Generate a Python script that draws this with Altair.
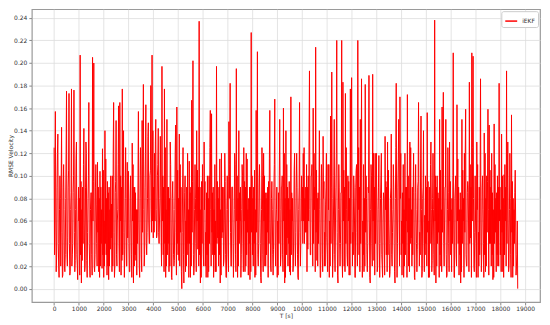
import altair as alt
import pandas as pd

STEP = 50 / 3  # time step between samples [s]

# main samples (every 50 s)
row00 = [0.125, 0.157, 0.028, 0.137, 0.010, 0.080, 0.143, 0.012, 0.070, 0.030, 0.175, 0.045, 0.173, 0.015, 0.177, 0.040, 0.176, 0.025, 0.130, 0.008]
row01 = [0.060, 0.207, 0.005, 0.090, 0.142, 0.020, 0.120, 0.050, 0.165, 0.010, 0.085, 0.205, 0.200, 0.030, 0.075, 0.112, 0.015, 0.104, 0.040, 0.124]
row02 = [0.010, 0.140, 0.030, 0.095, 0.008, 0.070, 0.045, 0.100, 0.165, 0.020, 0.149, 0.060, 0.162, 0.165, 0.012, 0.177, 0.140, 0.035, 0.080, 0.112]
row03 = [0.104, 0.015, 0.060, 0.129, 0.005, 0.090, 0.025, 0.070, 0.157, 0.010, 0.100, 0.149, 0.181, 0.030, 0.163, 0.050, 0.147, 0.040, 0.180, 0.207]
row04 = [0.045, 0.120, 0.150, 0.048, 0.142, 0.060, 0.090, 0.197, 0.030, 0.177, 0.010, 0.150, 0.040, 0.080, 0.110, 0.008, 0.070, 0.025, 0.145, 0.161]
row05 = [0.030, 0.137, 0.050, 0.000, 0.125, 0.060, 0.015, 0.090, 0.040, 0.113, 0.010, 0.167, 0.202, 0.020, 0.080, 0.140, 0.035, 0.237, 0.005, 0.095]
row06 = [0.060, 0.130, 0.020, 0.085, 0.010, 0.100, 0.158, 0.155, 0.030, 0.070, 0.015, 0.197, 0.045, 0.090, 0.005, 0.120, 0.050, 0.025, 0.095, 0.010]
row07 = [0.070, 0.148, 0.182, 0.020, 0.090, 0.040, 0.110, 0.195, 0.010, 0.140, 0.060, 0.030, 0.100, 0.125, 0.015, 0.120, 0.050, 0.080, 0.008, 0.227]
row08 = [0.030, 0.090, 0.010, 0.158, 0.210, 0.040, 0.075, 0.005, 0.100, 0.120, 0.020, 0.080, 0.050, 0.095, 0.158, 0.015, 0.070, 0.035, 0.168, 0.060]
row09 = [0.010, 0.085, 0.150, 0.030, 0.100, 0.160, 0.005, 0.140, 0.045, 0.080, 0.015, 0.170, 0.060, 0.020, 0.120, 0.050, 0.090, 0.008, 0.165, 0.040]
row10 = [0.060, 0.120, 0.040, 0.090, 0.015, 0.100, 0.193, 0.030, 0.110, 0.160, 0.070, 0.214, 0.025, 0.085, 0.140, 0.010, 0.095, 0.135, 0.020, 0.075]
row11 = [0.045, 0.110, 0.010, 0.153, 0.192, 0.030, 0.150, 0.060, 0.220, 0.005, 0.090, 0.040, 0.220, 0.183, 0.020, 0.173, 0.070, 0.100, 0.012, 0.177]
row12 = [0.187, 0.050, 0.090, 0.010, 0.110, 0.220, 0.030, 0.150, 0.186, 0.060, 0.015, 0.181, 0.080, 0.040, 0.189, 0.005, 0.100, 0.190, 0.025, 0.120]
row13 = [0.120, 0.020, 0.118, 0.040, 0.120, 0.010, 0.080, 0.135, 0.030, 0.130, 0.060, 0.015, 0.137, 0.050, 0.090, 0.005, 0.182, 0.040, 0.150, 0.170]
row14 = [0.030, 0.085, 0.010, 0.120, 0.060, 0.172, 0.020, 0.130, 0.045, 0.090, 0.120, 0.008, 0.070, 0.035, 0.165, 0.050, 0.153, 0.015, 0.140, 0.065]
row15 = [0.040, 0.156, 0.010, 0.090, 0.130, 0.025, 0.070, 0.238, 0.005, 0.100, 0.050, 0.150, 0.020, 0.161, 0.174, 0.060, 0.150, 0.012, 0.085, 0.130]
row16 = [0.030, 0.080, 0.209, 0.010, 0.100, 0.163, 0.040, 0.070, 0.005, 0.150, 0.060, 0.120, 0.159, 0.020, 0.090, 0.183, 0.045, 0.209, 0.206, 0.015]
row17 = [0.060, 0.130, 0.010, 0.090, 0.186, 0.030, 0.070, 0.138, 0.015, 0.100, 0.159, 0.145, 0.040, 0.120, 0.008, 0.146, 0.050, 0.085, 0.020, 0.182]
row18 = [0.030, 0.137, 0.015, 0.101, 0.060, 0.193, 0.130, 0.020, 0.080, 0.154, 0.010, 0.070, 0.105, 0.020, 0.000]

# second sample inside each 50 s block
mid00 = [0.030, 0.060, 0.090, 0.040, 0.070, 0.020, 0.050, 0.090, 0.020, 0.080, 0.030, 0.090, 0.040, 0.070, 0.020, 0.085, 0.050, 0.070, 0.030, 0.060]
mid01 = [0.080, 0.030, 0.070, 0.040, 0.060, 0.090, 0.025, 0.080, 0.040, 0.070, 0.030, 0.060, 0.020, 0.090, 0.040, 0.050, 0.080, 0.020, 0.070, 0.030]
mid02 = [0.060, 0.040, 0.080, 0.020, 0.090, 0.035, 0.075, 0.020, 0.050, 0.085, 0.030, 0.070, 0.040, 0.060, 0.090, 0.030, 0.050, 0.080, 0.020, 0.045]
mid03 = [0.040, 0.080, 0.030, 0.060, 0.090, 0.030, 0.070, 0.040, 0.060, 0.080, 0.030, 0.050, 0.070, 0.090, 0.040, 0.080, 0.060, 0.100, 0.070, 0.060]
mid04 = [0.090, 0.060, 0.070, 0.100, 0.050, 0.080, 0.045, 0.060, 0.090, 0.040, 0.070, 0.030, 0.090, 0.020, 0.060, 0.080, 0.030, 0.070, 0.050, 0.040]
mid05 = [0.080, 0.020, 0.090, 0.050, 0.030, 0.085, 0.060, 0.030, 0.070, 0.040, 0.090, 0.050, 0.030, 0.070, 0.040, 0.060, 0.090, 0.030, 0.070, 0.040]
mid06 = [0.030, 0.070, 0.050, 0.030, 0.080, 0.040, 0.070, 0.050, 0.090, 0.030, 0.060, 0.040, 0.080, 0.030, 0.070, 0.045, 0.090, 0.060, 0.030, 0.070]
mid07 = [0.030, 0.080, 0.050, 0.090, 0.040, 0.070, 0.030, 0.060, 0.080, 0.040, 0.090, 0.070, 0.040, 0.060, 0.090, 0.030, 0.070, 0.040, 0.090, 0.050]
mid08 = [0.080, 0.040, 0.070, 0.050, 0.030, 0.090, 0.040, 0.070, 0.030, 0.060, 0.085, 0.030, 0.090, 0.040, 0.060, 0.080, 0.030, 0.090, 0.040, 0.070]
mid09 = [0.060, 0.040, 0.070, 0.090, 0.030, 0.060, 0.080, 0.030, 0.090, 0.040, 0.070, 0.030, 0.080, 0.060, 0.040, 0.090, 0.030, 0.070, 0.050, 0.080]
mid10 = [0.090, 0.060, 0.080, 0.050, 0.090, 0.060, 0.070, 0.100, 0.060, 0.040, 0.090, 0.050, 0.080, 0.040, 0.070, 0.060, 0.030, 0.080, 0.050, 0.090]
mid11 = [0.030, 0.070, 0.060, 0.040, 0.080, 0.060, 0.030, 0.090, 0.050, 0.070, 0.040, 0.085, 0.030, 0.060, 0.090, 0.040, 0.030, 0.060, 0.080, 0.040]
mid12 = [0.080, 0.030, 0.060, 0.090, 0.050, 0.070, 0.090, 0.040, 0.060, 0.030, 0.080, 0.050, 0.030, 0.090, 0.060, 0.070, 0.040, 0.060, 0.090, 0.040]
mid13 = [0.060, 0.070, 0.040, 0.080, 0.030, 0.060, 0.040, 0.070, 0.090, 0.030, 0.040, 0.080, 0.030, 0.070, 0.040, 0.080, 0.060, 0.090, 0.060, 0.080]
mid14 = [0.060, 0.040, 0.070, 0.030, 0.090, 0.050, 0.080, 0.040, 0.070, 0.030, 0.060, 0.085, 0.040, 0.090, 0.060, 0.030, 0.070, 0.080, 0.040, 0.030]
mid15 = [0.090, 0.050, 0.060, 0.040, 0.070, 0.080, 0.030, 0.060, 0.090, 0.040, 0.080, 0.030, 0.070, 0.050, 0.040, 0.090, 0.030, 0.070, 0.040, 0.060]
mid16 = [0.070, 0.040, 0.060, 0.080, 0.030, 0.060, 0.090, 0.030, 0.070, 0.040, 0.080, 0.050, 0.030, 0.085, 0.060, 0.040, 0.090, 0.060, 0.080, 0.050]
mid17 = [0.040, 0.070, 0.050, 0.030, 0.060, 0.090, 0.040, 0.030, 0.080, 0.050, 0.070, 0.040, 0.090, 0.030, 0.070, 0.040, 0.080, 0.030, 0.090, 0.060]
mid18 = [0.070, 0.050, 0.080, 0.030, 0.090, 0.040, 0.060, 0.070, 0.030, 0.050, 0.080, 0.040, 0.060, 0.030]

# third sample inside each 50 s block
ext00 = [0.110, 0.015, 0.120, 0.020, 0.100, 0.090, 0.010, 0.110, 0.015, 0.120, 0.020, 0.105, 0.012, 0.085, 0.030, 0.100, 0.015, 0.115, 0.020, 0.090]
ext01 = [0.012, 0.095, 0.025, 0.110, 0.015, 0.130, 0.010, 0.100, 0.020, 0.085, 0.012, 0.095, 0.015, 0.110, 0.020, 0.090, 0.010, 0.090, 0.018, 0.105]
ext02 = [0.020, 0.115, 0.012, 0.085, 0.020, 0.100, 0.015, 0.120, 0.010, 0.095, 0.020, 0.110, 0.015, 0.100, 0.025, 0.090, 0.010, 0.125, 0.020, 0.095]
ext03 = [0.015, 0.100, 0.010, 0.110, 0.020, 0.085, 0.012, 0.100, 0.020, 0.125, 0.015, 0.110, 0.020, 0.120, 0.030, 0.135, 0.040, 0.105, 0.050, 0.140]
ext04 = [0.050, 0.130, 0.045, 0.110, 0.040, 0.135, 0.020, 0.100, 0.015, 0.125, 0.020, 0.090, 0.015, 0.130, 0.010, 0.095, 0.020, 0.120, 0.012, 0.105]
ext05 = [0.025, 0.110, 0.015, 0.090, 0.005, 0.100, 0.020, 0.120, 0.010, 0.085, 0.020, 0.095, 0.012, 0.110, 0.015, 0.105, 0.020, 0.090, 0.010, 0.110]
ext06 = [0.020, 0.095, 0.010, 0.100, 0.015, 0.125, 0.020, 0.085, 0.010, 0.110, 0.015, 0.095, 0.020, 0.115, 0.012, 0.090, 0.020, 0.120, 0.010, 0.100]
ext07 = [0.015, 0.110, 0.020, 0.090, 0.010, 0.120, 0.015, 0.100, 0.020, 0.085, 0.010, 0.110, 0.015, 0.095, 0.020, 0.115, 0.012, 0.090, 0.015, 0.100]
ext08 = [0.020, 0.105, 0.012, 0.090, 0.020, 0.110, 0.010, 0.125, 0.015, 0.100, 0.020, 0.085, 0.010, 0.115, 0.020, 0.095, 0.012, 0.110, 0.020, 0.090]
ext09 = [0.012, 0.100, 0.020, 0.090, 0.015, 0.120, 0.010, 0.110, 0.020, 0.095, 0.012, 0.085, 0.015, 0.105, 0.020, 0.120, 0.010, 0.090, 0.020, 0.100]
ext10 = [0.040, 0.125, 0.050, 0.110, 0.035, 0.130, 0.030, 0.100, 0.020, 0.120, 0.015, 0.105, 0.020, 0.090, 0.010, 0.110, 0.015, 0.095, 0.020, 0.120]
ext11 = [0.015, 0.110, 0.020, 0.090, 0.010, 0.100, 0.015, 0.120, 0.012, 0.110, 0.020, 0.085, 0.010, 0.105, 0.015, 0.125, 0.020, 0.095, 0.012, 0.115]
ext12 = [0.020, 0.100, 0.010, 0.105, 0.020, 0.125, 0.015, 0.090, 0.010, 0.110, 0.020, 0.100, 0.015, 0.085, 0.010, 0.110, 0.020, 0.120, 0.012, 0.095]
ext13 = [0.015, 0.090, 0.010, 0.100, 0.020, 0.085, 0.012, 0.095, 0.015, 0.105, 0.010, 0.090, 0.020, 0.110, 0.015, 0.125, 0.010, 0.115, 0.020, 0.120]
ext14 = [0.012, 0.110, 0.020, 0.090, 0.010, 0.100, 0.015, 0.125, 0.020, 0.085, 0.010, 0.110, 0.015, 0.095, 0.020, 0.115, 0.010, 0.090, 0.015, 0.100]
ext15 = [0.020, 0.095, 0.010, 0.110, 0.015, 0.120, 0.012, 0.100, 0.020, 0.085, 0.010, 0.105, 0.015, 0.120, 0.020, 0.090, 0.010, 0.125, 0.015, 0.095]
ext16 = [0.015, 0.100, 0.010, 0.090, 0.020, 0.115, 0.012, 0.085, 0.015, 0.105, 0.010, 0.120, 0.020, 0.095, 0.015, 0.110, 0.010, 0.125, 0.020, 0.100]
ext17 = [0.010, 0.110, 0.020, 0.090, 0.015, 0.100, 0.010, 0.120, 0.020, 0.095, 0.012, 0.105, 0.020, 0.085, 0.010, 0.110, 0.015, 0.100, 0.020, 0.090]
ext18 = [0.015, 0.100, 0.010, 0.110, 0.020, 0.090, 0.015, 0.120, 0.010, 0.095, 0.020, 0.085, 0.012, 0.060]

main = (row00 + row01 + row02 + row03 + row04 + row05 + row06 + row07 + row08 + row09
        + row10 + row11 + row12 + row13 + row14 + row15 + row16 + row17 + row18)
second = (mid00 + mid01 + mid02 + mid03 + mid04 + mid05 + mid06 + mid07 + mid08 + mid09
          + mid10 + mid11 + mid12 + mid13 + mid14 + mid15 + mid16 + mid17 + mid18)
third = (ext00 + ext01 + ext02 + ext03 + ext04 + ext05 + ext06 + ext07 + ext08 + ext09
         + ext10 + ext11 + ext12 + ext13 + ext14 + ext15 + ext16 + ext17 + ext18)

rmse = []
for i, v in enumerate(main):
    rmse.append(v)
    if i < len(second):
        rmse.append(second[i])
        rmse.append(third[i])
times = [round(i * STEP, 2) for i in range(len(rmse))]
series_name = ["iEKF"]

x_ticks = list(range(0, 19001, 1000))
y_ticks = [round(0.02 * k, 2) for k in range(13)]

df = pd.DataFrame({"T": times, "rmse": rmse, "series": series_name * len(rmse)})

chart = (
    alt.Chart(df)
    .mark_line(strokeWidth=1.0, clip=True)
    .encode(
        x=alt.X(
            "T:Q",
            scale=alt.Scale(domain=[-900, 19600], nice=False, zero=False),
            axis=alt.Axis(
                values=x_ticks, title="T [s]", format="d",
                labelFontSize=6, titleFontSize=6, labelPadding=1, titlePadding=1,
                labelFlush=False, titleColor="#333333",
            ),
        ),
        y=alt.Y(
            "rmse:Q",
            scale=alt.Scale(domain=[-0.0118, 0.2477], nice=False, zero=False),
            axis=alt.Axis(
                values=y_ticks, title="RMSE Velocity", format=".2f",
                labelFontSize=6, titleFontSize=6, labelPadding=2,
                titleX=-21, titleBaseline="middle", labelFlush=False,
                titleColor="#333333",
            ),
        ),
        color=alt.Color(
            "series:N",
            scale=alt.Scale(domain=series_name, range=["#ff0000"]),
            legend=alt.Legend(
                title=None, orient="top-right", offset=2,
                symbolType="stroke", symbolSize=144, symbolStrokeWidth=1.5,
                labelFontSize=6, labelOffset=4, padding=3,
                strokeColor="#cccccc", fillColor="white", cornerRadius=2,
                labelColor="#333333",
            ),
        ),
    )
    .properties(
        width=512, height=295,
        autosize=alt.AutoSizeParams(type="none"),
        padding={"left": 24, "top": 0, "right": 2, "bottom": 22},
    )
    .configure_view(stroke="#9a9a9a", strokeWidth=1.2)
    .configure_axis(
        domain=False, gridColor="#dddddd", gridWidth=0.8,
        tickColor="#888888", tickSize=3, labelColor="#333333", titleColor="#333333",
        labelFont="DejaVu Sans", titleFont="DejaVu Sans", titleFontWeight="normal",
    )
    .configure_legend(labelFont="DejaVu Sans")
)

chart.save("out.html", embed_options={"renderer": "svg", "actions": False})
